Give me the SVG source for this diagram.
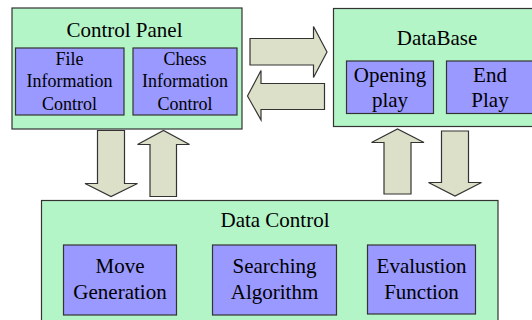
<svg xmlns="http://www.w3.org/2000/svg" width="532" height="320" viewBox="0 0 532 320">
<style>
.outer{fill:#b4f5c8;stroke:#333;stroke-width:1.2}
.inner{fill:#9999ff;stroke:#333;stroke-width:1.2}
.arrow{fill:#dde0c8;stroke:#333;stroke-width:1.2;stroke-linejoin:miter}
text{font-family:"Liberation Serif","Times New Roman",serif;fill:#000;text-anchor:middle}
.t21{font-size:21px}
.t18{font-size:18px}
</style>
<rect width="532" height="320" fill="#fff"/>
<g id="control-panel">
<rect class="outer" x="12" y="8" width="230" height="121"/>
<text class="t21" x="124.5" y="36.5">Control Panel</text>
</g>
<g id="file-info">
<rect class="inner" x="15.5" y="48" width="108.5" height="67"/>
<text class="t18" x="69.5" y="64.5">File</text>
<text class="t18" x="69.5" y="87">Information</text>
<text class="t18" x="69.5" y="109.5">Control</text>
</g>
<g id="chess-info">
<rect class="inner" x="133" y="48" width="104" height="67"/>
<text class="t18" x="185" y="64.5">Chess</text>
<text class="t18" x="185" y="87">Information</text>
<text class="t18" x="185" y="109.5">Control</text>
</g>
<g id="database">
<rect class="outer" x="333.5" y="8.5" width="220" height="118"/>
<text class="t21" x="437" y="45">DataBase</text>
</g>
<g id="opening-play">
<rect class="inner" x="346.5" y="61" width="87" height="52.5"/>
<text class="t21" x="390" y="81.5">Opening</text>
<text class="t21" x="390" y="106.5">play</text>
</g>
<g id="end-play">
<rect class="inner" x="446.5" y="61" width="87" height="52.5"/>
<text class="t21" x="490" y="81.5">End</text>
<text class="t21" x="490" y="106.5">Play</text>
</g>
<g id="data-control">
<rect class="outer" x="41.5" y="200.5" width="456.5" height="130"/>
<text class="t21" x="275" y="226.5">Data Control</text>
</g>
<g id="move-generation">
<rect class="inner" x="63.5" y="245" width="113" height="70"/>
<text class="t21" x="120" y="273">Move</text>
<text class="t21" x="120" y="299">Generation</text>
</g>
<g id="searching-algorithm">
<rect class="inner" x="212.5" y="245" width="124" height="70"/>
<text class="t21" x="274.5" y="273">Searching</text>
<text class="t21" x="274.5" y="299">Algorithm</text>
</g>
<g id="evaluation-function">
<rect class="inner" x="367.5" y="245" width="108" height="69"/>
<text class="t21" x="421.5" y="273">Evalustion</text>
<text class="t21" x="421.5" y="299">Function</text>
</g>
<g id="connectors">
<polygon class="arrow" points="250,38.5 313.5,38.5 313.5,26.5 327,52 313.5,77.5 313.5,65 250,65"/>
<polygon class="arrow" points="324.5,83.5 261,83.5 261,70.5 247.5,96 261,120 261,109.5 324.5,109.5"/>
<polygon class="arrow" points="97.5,130.5 124.5,130.5 124.5,183.5 137.5,183.5 111,196.5 85,183.5 97.5,183.5"/>
<polygon class="arrow" points="150,196.5 176.5,196.5 176.5,144.5 189.5,144.5 163.5,130.5 137.5,144.5 150,144.5"/>
<polygon class="arrow" points="384,194 411,194 411,142.5 424,142.5 397.5,129 371.5,142.5 384,142.5"/>
<polygon class="arrow" points="441.5,131 468.5,131 468.5,182.5 481.5,182.5 455,196 428.5,182.5 441.5,182.5"/>
</g>
</svg>
